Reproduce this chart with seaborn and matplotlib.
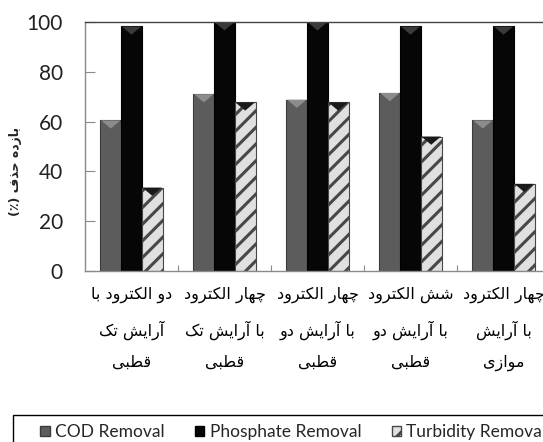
import matplotlib
matplotlib.use("Agg")
import matplotlib.pyplot as plt
from matplotlib.patches import Patch, Polygon, Rectangle
import seaborn as sns
import pandas as pd

# Contextual Arabic-script forms: (isolated, final, initial, medial)
FORMS = {
    "ا": ("\uFE8D", "\uFE8E", None, None),
    "آ": ("\uFE81", "\uFE82", None, None),
    "ب": ("\uFE8F", "\uFE90", "\uFE91", "\uFE92"),
    "ت": ("\uFE95", "\uFE96", "\uFE97", "\uFE98"),
    "چ": ("\uFB7A", "\uFB7B", "\uFB7C", "\uFB7D"),
    "ح": ("\uFEA1", "\uFEA2", "\uFEA3", "\uFEA4"),
    "د": ("\uFEA9", "\uFEAA", None, None),
    "ذ": ("\uFEAB", "\uFEAC", None, None),
    "ر": ("\uFEAD", "\uFEAE", None, None),
    "ز": ("\uFEAF", "\uFEB0", None, None),
    "ش": ("\uFEB5", "\uFEB6", "\uFEB7", "\uFEB8"),
    "ط": ("\uFEC1", "\uFEC2", "\uFEC3", "\uFEC4"),
    "ف": ("\uFED1", "\uFED2", "\uFED3", "\uFED4"),
    "ق": ("\uFED5", "\uFED6", "\uFED7", "\uFED8"),
    "ک": ("\uFB8E", "\uFB8F", "\uFB90", "\uFB91"),
    "ل": ("\uFEDD", "\uFEDE", "\uFEDF", "\uFEE0"),
    "م": ("\uFEE1", "\uFEE2", "\uFEE3", "\uFEE4"),
    "ه": ("\uFEE9", "\uFEEA", "\uFEEB", "\uFEEC"),
    "و": ("\uFEED", "\uFEEE", None, None),
    "ی": ("\uFBFC", "\uFBFD", "\uFBFE", "\uFBFF"),
}


def shape_line(text):
    out = []
    for i, ch in enumerate(text):
        if ch not in FORMS:
            out.append(ch)
            continue
        prev = text[i - 1] if i > 0 else ""
        nxt = text[i + 1] if i + 1 < len(text) else ""
        join_prev = prev in FORMS and FORMS[prev][2] is not None
        join_next = nxt in FORMS and FORMS[ch][2] is not None
        iso, fin, ini, med = FORMS[ch]
        if join_prev and join_next:
            out.append(med)
        elif join_prev:
            out.append(fin)
        elif join_next:
            out.append(ini)
        else:
            out.append(iso)
    visual = "".join(reversed(out))
    return visual.translate(str.maketrans("()", ")("))


def rtl(text):
    return "\n".join(shape_line(line) for line in text.split("\n"))


# ---- data ----
categories = [
    "دو الکترود با\nآرایش تک\nقطبی",
    "چهار الکترود\nبا آرایش تک\nقطبی",
    "چهار الکترود\nبا آرایش دو\nقطبی",
    "شش الکترود\nبا آرایش دو\nقطبی",
    "چهار الکترود\nبا آرایش\nموازی",
]
series = ["COD Removal", "Phosphate Removal", "Turbidity Removal"]
cod_removal = [60.5, 71.0, 68.8, 71.5, 60.5]
phosphate_removal = [98.2, 99.9, 99.9, 98.2, 98.2]
turbidity_removal = [33.5, 67.7, 67.7, 54.0, 35.0]
y_label = "بازده حذف (٪)"

labels = [rtl(c) for c in categories]
df = pd.DataFrame({
    "category": labels * 3,
    "series": [s for s in series for _ in labels],
    "value": cod_removal + phosphate_removal + turbidity_removal,
})

face = {"COD Removal": "#5c5c5c", "Phosphate Removal": "#060606",
        "Turbidity Removal": "#e0e0e0"}
bevel = {"COD Removal": "#8c8c8c", "Phosphate Removal": "#3a3a3a",
         "Turbidity Removal": "#1a1a1a"}
edge = {"COD Removal": "#3c3c3c", "Phosphate Removal": "#000000",
        "Turbidity Removal": "#474747"}

sns.set_style("white")
plt.rcParams["hatch.linewidth"] = 2.2

fig = plt.figure(figsize=(5.43, 4.42), dpi=100)
ax = fig.add_axes([85 / 543, 1 - 271 / 442, 465 / 543, 249 / 442])

sns.barplot(data=df, x="category", y="value", hue="series",
            palette=face, width=0.667, dodge=True, gap=0,
            saturation=1, legend=False, ax=ax)

# style each series and add the bevelled top of each bar
for name, container in zip(series, ax.containers):
    for bar in container:
        bar.set_edgecolor(edge[name])
        bar.set_linewidth(0.8)
        if name == "Turbidity Removal":
            bar.set_hatch("//")
        x0, w, h = bar.get_x(), bar.get_width(), bar.get_height()
        ax.add_patch(Polygon([(x0 + 0.03 * w, h), (x0 + 0.97 * w, h),
                              (x0 + w / 2, h - 3.3)], closed=True,
                             facecolor=bevel[name], edgecolor="none",
                             zorder=bar.get_zorder() + 0.1))

ax.set_xlim(-0.5, 4.5)
ax.set_ylim(0, 100)
ax.set_yticks([0, 20, 40, 60, 80, 100])
ax.set_xlabel("")
ax.set_ylabel(rtl(y_label), fontsize=9, fontweight="bold",
              family=["DejaVu Sans"])
ax.yaxis.set_label_coords(-0.135, 0.40)

for s in ["left", "bottom"]:
    ax.spines[s].set_color("#8a8a8a")
    ax.spines[s].set_linewidth(1.0)
ax.spines["top"].set_color("#444444")
ax.spines["top"].set_linewidth(1.0)
ax.spines["right"].set_visible(False)

ax.tick_params(axis="y", direction="in", length=7, width=0.8, color="#8a8a8a",
               pad=16, labelsize=15, left=True)
for t in ax.get_yticklabels():
    t.set_family(["Lato", "DejaVu Sans"])
    t.set_color("#222222")

ax.tick_params(axis="x", which="major", length=0, pad=11)
ax.set_xticks([0.5, 1.5, 2.5, 3.5], minor=True)
ax.tick_params(axis="x", which="minor", direction="in", length=4, width=0.8,
               color="#8a8a8a", bottom=True)
for t in ax.get_xticklabels():
    t.set_family(["DejaVu Sans"])
    t.set_fontsize(11.5)
    t.set_linespacing(2.2)
    t.set_color("#000000")

# legend: entries plus a frame running off the right edge of the figure
handles = [Patch(facecolor=face[s], edgecolor=edge[s],
                 hatch="//" if s == "Turbidity Removal" else None, label=s)
           for s in series]
leg = fig.legend(handles=handles, loc="upper left",
                 bbox_to_anchor=(40 / 543, 1 - 424 / 442), ncol=3,
                 frameon=False, borderaxespad=0, borderpad=0,
                 handlelength=0.55, handleheight=0.55, handletextpad=0.3,
                 columnspacing=1.75,
                 prop={"family": ["Lato", "DejaVu Sans"], "size": 12.5})
fig.add_artist(Rectangle((13 / 543, -0.05), 1.0, 0.05 + 27 / 442,
                         transform=fig.transFigure, fill=False,
                         edgecolor="#000000", linewidth=1.0))

fig.savefig("out.png", dpi=100)
